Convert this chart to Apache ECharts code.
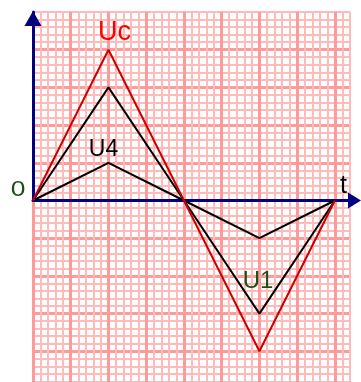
<!DOCTYPE html>
<html>
<head>
<meta charset="utf-8">
<script src="https://cdn.jsdelivr.net/npm/echarts@6/dist/echarts.min.js"></script>
<style>
html, body { margin: 0; padding: 0; background: #fff; }
#chart { width: 361px; height: 382px; }
</style>
</head>
<body>
<div id="chart"></div>
<script>
// time points and the three voltages (in grid units)
var tValues = [0, 2, 4, 6, 8];
var ucValues = [0, 4, 0, -4, 0];
var u1Values = [0, 3, 0, -3, 0];
var u4Values = [0, 1, 0, -1, 0];

function pairs(ys) {
    return tValues.map(function (t, i) { return [t, ys[i]]; });
}

function label(text, x, y, size, color, sx) {
    return {
        type: 'text', x: x, y: y, z: 100, scaleX: sx || 1,
        style: {
            text: text, fill: color, fontSize: size, fontFamily: 'Liberation Sans',
            align: 'center', verticalAlign: 'middle'
        }
    };
}

var minorLine = { show: true, lineStyle: { color: '#ffbaba', width: 2 } };
var majorLine = { show: true, showMaxLine: false, lineStyle: { color: '#ff9a9a', width: 3 } };
var hidden = { show: false };

var option = {
    animation: false,
    backgroundColor: '#fff',
    grid: [
        { left: 33, top: 12, width: 317, height: 377, outerBoundsMode: 'none' },
        { left: 33, top: 12, width: 317, height: 188.5, outerBoundsMode: 'none' }
    ],
    xAxis: [
        {
            type: 'value', gridIndex: 0, min: 0, max: 8.4, interval: 0.2,
            splitLine: minorLine, axisLabel: hidden, axisTick: hidden,
            axisLine: {
                show: true, onZero: true,
                symbol: ['none', 'triangle'], symbolSize: [16, 13], symbolOffset: [0, 4.5],
                lineStyle: { color: '#000080', width: 3 }
            }
        },
        {
            type: 'value', gridIndex: 0, min: 0, max: 8.4, interval: 1,
            splitLine: majorLine, axisLabel: hidden, axisTick: hidden, axisLine: hidden
        },
        {
            type: 'value', gridIndex: 1, min: 0, max: 8.4, show: false
        }
    ],
    yAxis: [
        {
            type: 'value', gridIndex: 0, min: -5, max: 5, interval: 0.2,
            splitLine: minorLine, axisLabel: hidden, axisTick: hidden, axisLine: hidden
        },
        {
            type: 'value', gridIndex: 0, min: -5, max: 5, interval: 1,
            splitLine: majorLine, axisLabel: hidden, axisTick: hidden, axisLine: hidden
        },
        {
            type: 'value', gridIndex: 1, min: 0, max: 5,
            splitLine: hidden, axisTick: hidden, axisLabel: hidden,
            axisLine: {
                show: true, onZero: false,
                symbol: ['none', 'triangle'], symbolSize: [17, 15], symbolOffset: [0, -6.5],
                lineStyle: { color: '#000080', width: 3 }
            }
        }
    ],
    series: [
        {
            name: 'U4', type: 'line', xAxisIndex: 0, yAxisIndex: 0,
            data: pairs(u4Values), symbol: 'none', z: 5,
            lineStyle: { color: '#000', width: 2 }
        },
        {
            name: 'U1', type: 'line', xAxisIndex: 0, yAxisIndex: 0,
            data: pairs(u1Values), symbol: 'none', z: 5,
            lineStyle: { color: '#000', width: 2 }
        },
        {
            name: 'Uc', type: 'line', xAxisIndex: 0, yAxisIndex: 0,
            data: pairs(ucValues), symbol: 'none', z: 6,
            lineStyle: { color: '#cc0000', width: 2 }
        }
    ],
    graphic: [
        label('Uc', 114.5, 32.3, 27, '#ff0000'),
        label('U4', 103.5, 149.7, 23, '#000'),
        label('U1', 258, 281.4, 24, '#1d4f1d'),
        label('t', 343.5, 186, 25, '#000'),
        label('0', 18, 189.5, 22, '#1d4f1d', 1.2)
    ]
};

var chart = echarts.init(document.getElementById('chart'));
chart.setOption(option);
</script>
</body>
</html>
